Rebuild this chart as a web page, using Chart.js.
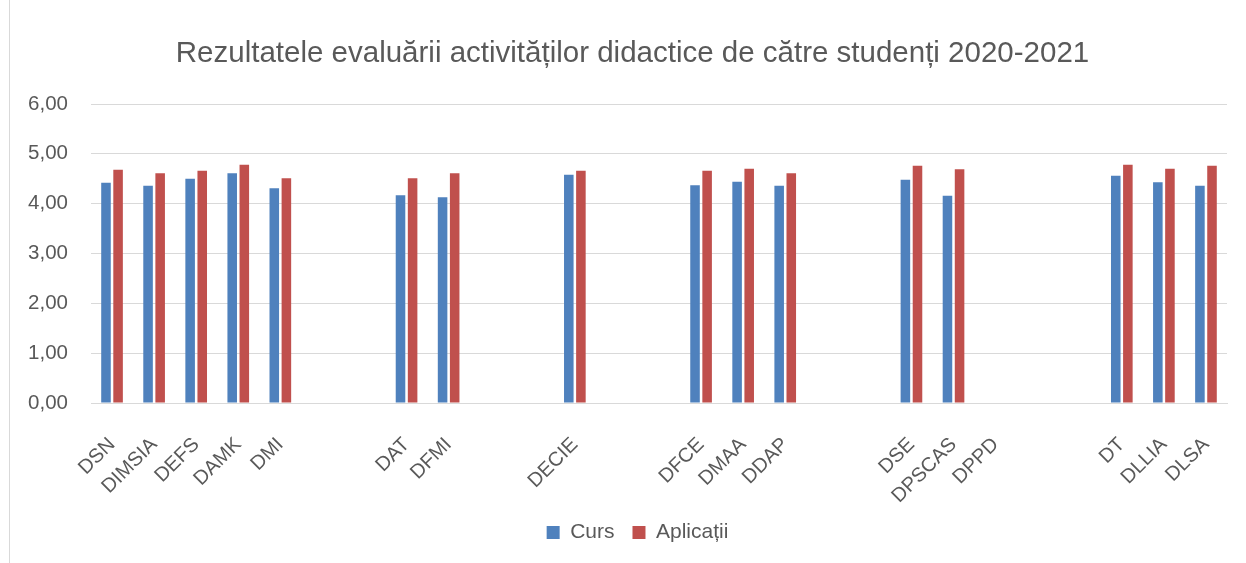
<!DOCTYPE html>
<html>
<head>
<meta charset="utf-8">
<script src="https://cdn.jsdelivr.net/npm/chart.js@4"></script>
<style>
  html, body { margin: 0; padding: 0; background: #fff; }
  #wrap { position: relative; width: 1246px; height: 563px; }
  #frame { position: absolute; left: 9px; top: 0; width: 1px; height: 563px; background: #d9d9d9; }
  canvas { position: absolute; left: 0; top: 0; }
</style>
</head>
<body>
<div id="wrap">
  <canvas id="c" width="1246" height="563"></canvas>
  <div id="frame"></div>
</div>
<script>
const categories = ['DSN','DIMSIA','DEFS','DAMK','DMI','','','DAT','DFMI','','','DECIE','','','DFCE','DMAA','DDAP','','','DSE','DPSCAS','DPPD','','','DT','DLLIA','DLSA'];
const curs = [4.42,4.36,4.50,4.61,4.31,null,null,4.17,4.13,null,null,4.58,null,null,4.37,4.44,4.36,null,null,4.48,4.16,null,null,null,4.56,4.43,4.36];
const aplicatii = [4.68,4.61,4.66,4.78,4.51,null,null,4.51,4.61,null,null,4.66,null,null,4.66,4.70,4.61,null,null,4.76,4.69,null,null,null,4.78,4.70,4.76];
const yTicks = [0,1,2,3,4,5,6];
const seriesNames = ['Curs','Aplicații'];
const titleText = 'Rezultatele evaluării activităților didactice de către studenți 2020-2021';

const FONT = 'Liberation Sans, Arial, sans-serif';
const TXT = '#595959';

// shift title and legend to the frame's centre (the reference frame is centred a bit to the right)
const shiftBoxes = {
  id: 'shiftBoxes',
  afterLayout(chart) {
    if (chart.titleBlock) { chart.titleBlock.left += 19; chart.titleBlock.right += 19; }
    if (chart.legend) { chart.legend.left += 24; chart.legend.right += 24; }
  }
};

new Chart(document.getElementById('c'), {
  type: 'bar',
  data: {
    labels: categories,
    datasets: [
      { label: seriesNames[0], data: curs, backgroundColor: '#4F81BD', categoryPercentage: 0.575, barPercentage: 0.79 },
      { label: seriesNames[1], data: aplicatii, backgroundColor: '#C0504D', categoryPercentage: 0.575, barPercentage: 0.79 }
    ]
  },
  plugins: [shiftBoxes],
  options: {
    responsive: false,
    animation: false,
    layout: { padding: { left: 0, right: 19, top: 0, bottom: 10 } },
    plugins: {
      title: {
        display: true, text: titleText, color: TXT,
        font: { family: FONT, size: 29.5, weight: 'normal' },
        padding: { top: 36, bottom: 32.6 }
      },
      legend: {
        position: 'bottom',
        labels: {
          color: TXT, font: { family: FONT, size: 21 },
          boxWidth: 13, boxHeight: 13, padding: 18
        }
      },
      tooltip: { enabled: false }
    },
    scales: {
      x: {
        grid: { display: false },
        border: { display: true, color: '#d9d9d9', width: 1 },
        ticks: {
          autoSkip: false, minRotation: 45, maxRotation: 45, padding: 22,
          color: TXT, font: { family: FONT, size: 20 }
        },
        afterFit: s => { s.height = 101; }
      },
      y: {
        min: 0, max: 6,
        afterBuildTicks: s => { s.ticks = yTicks.map(v => ({ value: v })); },
        grid: { color: '#d9d9d9', drawTicks: false },
        border: { display: false },
        ticks: {
          padding: 23, color: TXT, font: { family: FONT, size: 20.5 },
          callback: v => v.toFixed(2).replace('.', ',')
        },
        afterFit: s => { s.width = 91; }
      }
    }
  }
});
</script>
</body>
</html>
